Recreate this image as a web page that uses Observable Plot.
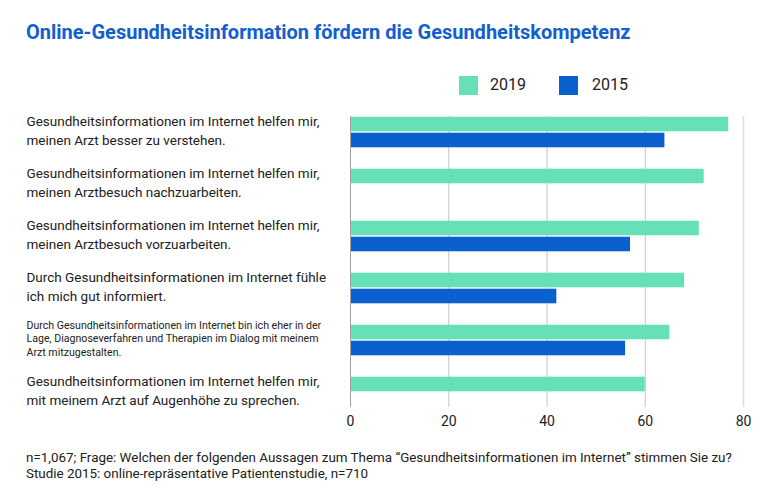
<!DOCTYPE html>
<html>
<head>
<meta charset="utf-8">
<script src="https://cdn.jsdelivr.net/npm/d3@7"></script>
<script src="https://cdn.jsdelivr.net/npm/@observablehq/plot@0.6"></script>
<style>
  html, body { margin: 0; padding: 0; background: #fff; }
  #wrap { position: relative; width: 780px; height: 500px; font-family: Roboto, "Noto Sans", sans-serif; color: #212121; }
  #title { position: absolute; left: 26px; top: 20px; font-size: 20px; font-weight: 700; color: #1160d0; white-space: nowrap; }
  .leg { position: absolute; top: 76px; width: 19px; height: 19px; }
  .legt { position: absolute; top: 75px; font-size: 16px; color: #212121; }
  #caption { position: absolute; left: 26px; top: 450px; font-size: 13.4px; line-height: 16px; color: #212121; white-space: nowrap; }
  #chart { position: absolute; left: 0; top: 0; }
</style>
</head>
<body>
<div id="wrap">
  <div id="chart"></div>
  <div id="title">Online-Gesundheitsinformation fördern die Gesundheitskompetenz</div>
  <div class="leg" style="left:459px;background:#66e0b6"></div>
  <div class="legt" style="left:490px">2019</div>
  <div class="leg" style="left:559px;background:#0a60cf"></div>
  <div class="legt" style="left:592px">2015</div>
  <div id="caption">n=1,067; Frage: Welchen der folgenden Aussagen zum Thema “Gesundheitsinformationen im Internet” stimmen Sie zu?<br>Studie 2015: online-repräsentative Patientenstudie, n=710</div>
</div>
<script>
const questions = [
  "Gesundheitsinformationen im Internet helfen mir,\nmeinen Arzt besser zu verstehen.",
  "Gesundheitsinformationen im Internet helfen mir,\nmeinen Arztbesuch nachzuarbeiten.",
  "Gesundheitsinformationen im Internet helfen mir,\nmeinen Arztbesuch vorzuarbeiten.",
  "Durch Gesundheitsinformationen im Internet fühle\nich mich gut informiert.",
  "Durch Gesundheitsinformationen im Internet bin ich eher in der\nLage, Diagnoseverfahren und Therapien im Dialog mit meinem\nArzt mitzugestalten.",
  "Gesundheitsinformationen im Internet helfen mir,\nmit meinem Arzt auf Augenhöhe zu sprechen."
];
const values2019 = [77, 72, 71, 68, 65, 60];
const values2015 = [64, null, 57, 42, 56, null];
const xTicks = [0, 20, 40, 60, 80];
const smallLabelIndex = 4;

const rows2019 = questions.map((q, i) => ({q, v: values2019[i]}));
const rows2015 = questions.map((q, i) => ({q, v: values2015[i]})).filter(d => d.v != null);

const chart = Plot.plot({
  width: 780,
  height: 500,
  marginLeft: 350,
  marginRight: 37,
  marginTop: 116,
  marginBottom: 93,
  style: {fontFamily: "Roboto, 'Noto Sans', sans-serif", color: "#212121", background: "transparent"},
  x: {domain: [0, 80], axis: null},
  y: {domain: questions, range: [106, 418], padding: 0, axis: null},
  marks: [
    Plot.ruleX(xTicks.filter(t => t > 0 && t < 80), {stroke: "#c4c4c4", strokeWidth: 1, strokeOpacity: 1}),
    Plot.ruleX([80], {stroke: "#dcdcdc", strokeWidth: 1.5, strokeOpacity: 1}),
    Plot.barX(rows2019, {y: "q", x: "v", fill: "#66e0b6", insetTop: 10.7, insetBottom: 26.7}),
    Plot.barX(rows2015, {y: "q", x: "v", fill: "#0a60cf", insetTop: 26.7, insetBottom: 10.7}),
    Plot.ruleX([0], {stroke: "#a0a0a0", strokeWidth: 1, strokeOpacity: 1}),
    Plot.axisX({ticks: xTicks, tickSize: 0, tickPadding: 9, fontSize: 14, label: null, tickFormat: d => String(d), fill: "#212121"}),
    Plot.text(questions.filter((q, i) => i !== smallLabelIndex), {
      y: d => d, text: d => d, frameAnchor: "left", dx: -324, dy: -3, textAnchor: "start",
      fontSize: 13.5, lineHeight: 1.41, fill: "#212121"
    }),
    Plot.text(questions.filter((q, i) => i === smallLabelIndex), {
      y: d => d, text: d => d, frameAnchor: "left", dx: -324, dy: -2.5, textAnchor: "start",
      fontSize: 10.6, lineHeight: 1.32, fill: "#212121"
    })
  ]
});
document.getElementById("chart").appendChild(chart);
</script>
</body>
</html>
